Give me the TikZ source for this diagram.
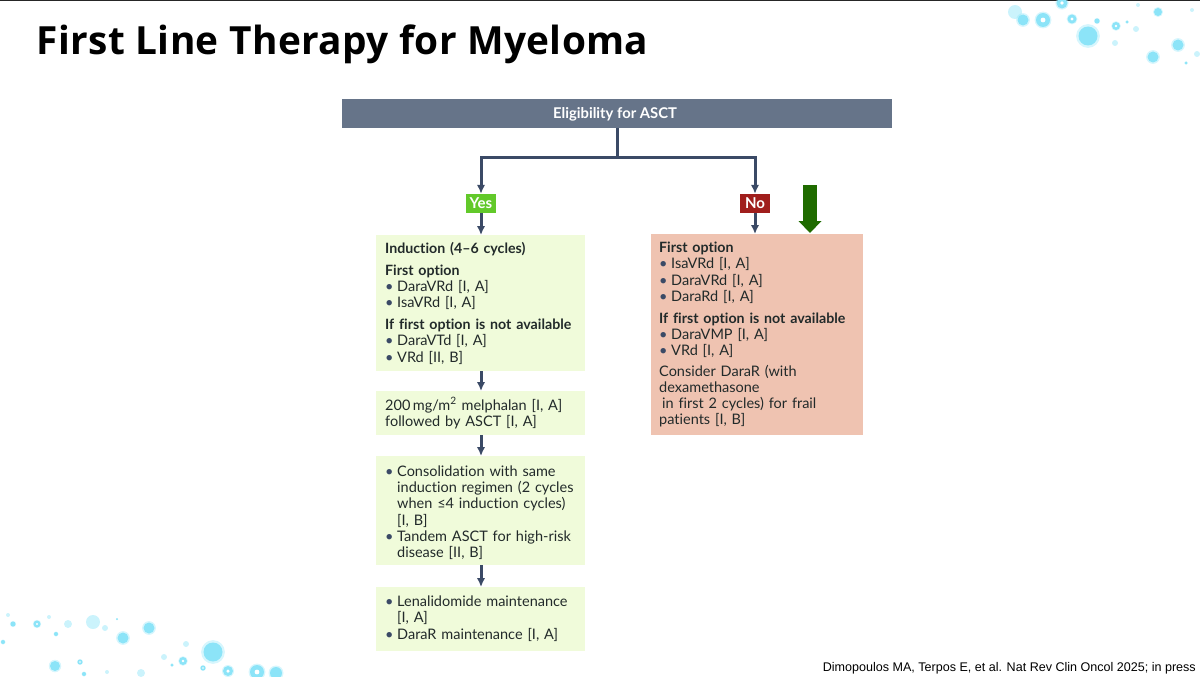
\documentclass[tikz,border=0pt]{standalone}
\usepackage{fontspec}
\setmainfont[Ligatures=NoCommon]{Lato}
\newfontfamily\titlefont[LetterSpace=1.0]{Open Sans}
\newfontfamily\citefont{Liberation Sans}
\usetikzlibrary{arrows.meta}

\definecolor{headblue}{HTML}{667489}
\definecolor{linkblue}{HTML}{3B4A66}
\definecolor{yesgreen}{HTML}{62C92A}
\definecolor{nored}{HTML}{A01E1C}
\definecolor{boxgreen}{HTML}{F0FBDA}
\definecolor{boxred}{HTML}{EFC3B1}
\definecolor{markgreen}{HTML}{1F6B00}
\definecolor{bubble}{HTML}{8CE4F8}
\definecolor{inktext}{HTML}{222A2A}

\newcommand{\bul}{\makebox[12pt][l]{\textcolor{linkblue}{\textbullet}}}
\newcommand{\ind}{\hspace*{12pt}}
\newcommand{\hd}[1]{{\fontsize{14.2}{16.3}\selectfont\bfseries #1}}

\begin{document}
\begin{tikzpicture}[x=1pt, y=-1pt]

\useasboundingbox (0,0) rectangle (1200,677);
\clip (0,0) rectangle (1200,677);

%% setup styles
\tikzstyle{flow box}=[anchor=north west, inner ysep=0pt, align=left, text=inktext, font=\fontsize{14.5}{16.3}\selectfont]
\tikzstyle{green box}=[flow box, fill=boxgreen, inner xsep=9pt, text width=191pt]
\tikzstyle{red box}=[flow box, fill=boxred, inner xsep=8pt, text width=196pt]
\tikzstyle{answer}=[text=white, font=\fontsize{15}{16}\selectfont\bfseries, inner sep=0pt, minimum width=30pt, minimum height=19pt]
\tikzstyle{link}=[line width=3pt, draw=linkblue]
\tikzstyle{link arrow}=[link, -{Latex[length=9pt,width=8.5pt]}]

%% top edge of the slide
\fill[black!85] (0,0) rectangle (1200,1);

%% bubbles, top right and bottom left
\foreach \x/\y/\r in {1088/36/9.5,1023/20/5.5,1178/45/5.5,1153/57/5.5,1158/12/4,1097/21/2.5,1127/22/1.5,1186/63/1.5,
  149/628/5.5,123/638/5.5,213/652/9.5,276/673/6,55/666/5,13/624/2.5,56/634/2,3/642/2,172/665/1.5,117/619/1,84/674/2}{
\fill[bubble, opacity=0.35] (\x,\y) circle (1.25*\r);
\fill[bubble] (\x,\y) circle (\r);}

\foreach \x/\y/\r in {1015/12/7,1136/29/3,1197/54/3,1192/10/2,1115/43/3,1138/5/2,
  8/615/2,49/617/2,68/624/4,93/622/7,105/628/3,186/644/3,164/657/3,141/673/4,107/672/2}{
\fill[bubble, opacity=0.45] (\x,\y) circle (\r);}

\foreach \x/\y/\r in {1043/20/7,1072/19/4.5,1062/3/5.5,1116/26/4,
  37/624/3.5,183/661/4,203/668/2.5,228/671/5,257/672/7,80/662/2.5}{
\fill[bubble, opacity=0.35] (\x,\y) circle (1.2*\r);
\fill[bubble] (\x,\y) circle (\r);
\fill[white] (\x,\y) circle (0.35*\r);}

%% title and source
\node[anchor=base west, inner sep=0pt, font=\fontsize{38.8}{42}\selectfont\titlefont\bfseries] (title) at (36.5,55) {First Line Therapy for Myeloma};
\node[anchor=east, inner sep=0pt, font=\fontsize{12.55}{15}\selectfont\citefont] (source) at (1196,668) {Dimopoulos MA, Terpos E, et al. Nat Rev Clin Oncol 2025; in press};

%% head of the chart
\node[fill=headblue, text=white, minimum width=550pt, minimum height=29pt, inner sep=0pt, text height=11pt, text depth=1pt, font=\fontsize{14.8}{16}\selectfont\bfseries] (head) at (617,113.5) {\hspace*{-4pt}Eligibility for ASCT};
\coordinate (split) at (617,157);

\node[answer, fill=yesgreen] (yes) at (481,203.5) {Yes};
\node[answer, fill=nored] (no) at (755,203.5) {No};

% Draw the left column
\node[green box, minimum height=136pt] (induction) at (376,235) {\hd{Induction (4--6 cycles)}\\[5.5pt]
\hd{First option}\\
\bul DaraVRd [I, A]\\
\bul IsaVRd [I, A]\\[5.5pt]
\hd{If first option is not available}\\
\bul DaraVTd [I, A]\\
\bul VRd [II, B]};

\node[green box, minimum height=44pt] (melphalan) at (376,391) {200\,mg/m\textsuperscript{2} melphalan [I, A]\\
followed by ASCT [I, A]};

\node[green box, minimum height=109pt] (consolidation) at (376,456) {\bul Consolidation with same\\
\ind induction regimen (2 cycles\\
\ind when ≤4 induction cycles)\\
\ind [I, B]\\
\bul Tandem ASCT for high-risk\\
\ind disease [II, B]\\[-18pt]\mbox{}};

\node[green box, minimum height=64pt] (maintenance) at (376,587) {\bul Lenalidomide maintenance\\
\ind [I, A]\\
\bul DaraR maintenance [I, A]\\[-13pt]\mbox{}};

% Draw the right column
\node[red box, minimum height=201pt] (frontline) at (651,234) {\hd{First option}\\
\bul IsaVRd [I, A]\\
\bul DaraVRd [I, A]\\
\bul DaraRd [I, A]\\[5.5pt]
\hd{If first option is not available}\\
\bul DaraVMP [I, A]\\
\bul VRd [I, A]\\[4pt]
Consider DaraR (with\\
dexamethasone\\
\hspace*{3pt}in first 2 cycles) for frail\\
patients [I, B]};

%% connectors
\draw[link] (head.south) -- (split);
\draw[link arrow] (split) -| (yes.north);
\draw[link arrow] (split) -| (no.north);
\draw[link arrow] (yes.south) -- (yes.south |- induction.north);
\draw[link arrow] (no.south) -- (no.south |- frontline.north);
\draw[link arrow] (induction.south -| yes.south) -- (yes.south |- melphalan.north);
\draw[link arrow] (melphalan.south -| yes.south) -- (yes.south |- consolidation.north);
\draw[link arrow] (consolidation.south -| yes.south) -- (yes.south |- maintenance.north);

%% green marker
\coordinate (mark top) at (810,185);
\coordinate (mark tip) at (810,233);
\draw[draw=markgreen, line width=14pt, -{Triangle[length=12pt,width=23pt,line width=0pt]}] (mark top) -- (mark tip);

\end{tikzpicture}
\end{document}
